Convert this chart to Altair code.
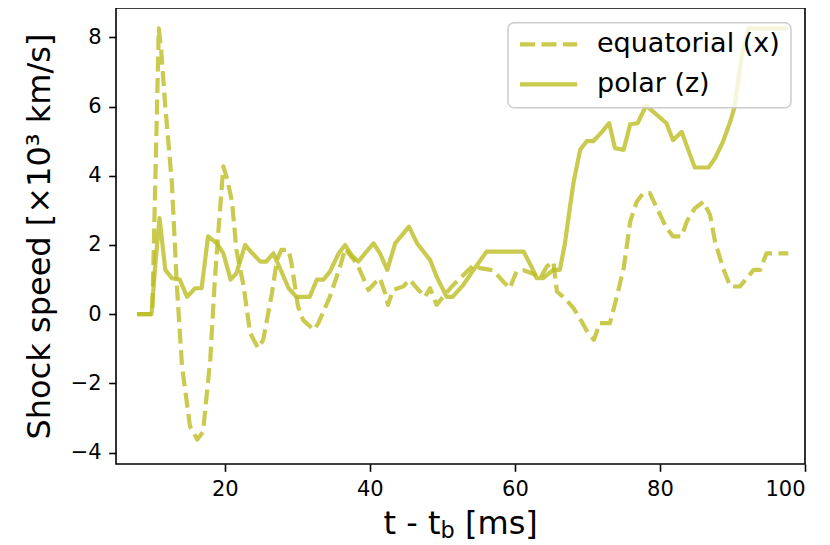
import altair as alt
import pandas as pd

# ---- data ----
eq_t = [7.9, 10.0, 10.9, 11.2, 11.8, 12.7, 13.4, 14.1, 15.2, 16.2, 17.0, 18.0, 18.6, 19.1, 19.8,
        20.3, 21.0, 21.6, 22.6, 23.5, 24.6, 25.3, 26.5, 27.2, 27.8, 28.8, 29.2, 30.1, 30.8, 32.3,
        32.9, 34.5, 35.9, 36.6, 37.3, 38.2, 39.1, 39.8, 40.7, 41.4, 42.1, 42.5, 43.2, 44.6, 45.5,
        46.5, 47.6, 48.3, 49.2, 50.1, 51.3, 52.9, 54.3, 55.2, 57.0, 58.4, 59.3, 60.2, 61.2, 62.5,
        63.5, 64.4, 65.3, 65.8, 66.9, 68.1, 69.2, 70.1, 70.9, 71.7, 73.1, 74.0, 75.0, 75.9, 76.8,
        77.7, 78.6, 79.6, 80.9, 81.8, 83.0, 83.7, 84.8, 86.0, 86.9, 87.6, 88.7, 89.7, 91.0, 92.0,
        92.9, 93.8, 94.7, 97.7]
eq_v = [0, 0, 8.26, 7.7, 6.0, 3.8, 0.8, -1.5, -3.24, -3.62, -3.4, -1.3, 0.9, 2.35, 4.27,
        3.93, 3.25, 1.86, 0.8, -0.55, -0.98, -0.74, 0.61, 1.57, 1.86, 1.86, 1.47, 0.22, -0.17, -0.45,
        -0.26, 0.51, 1.38, 1.9, 1.7, 1.47, 1.04, 0.7, 0.9, 1.04, 0.61, 0.27, 0.7, 0.8, 1.0,
        0.75, 0.5, 0.75, 0.27, 0.5, 0.8, 1.13, 1.42, 1.33, 1.27, 0.94, 0.75, 1.23, 1.27, 1.17,
        1.04, 1.38, 1.52, 0.65, 0.46, 0.17, -0.21, -0.55, -0.74, -0.26, -0.26, 0.46, 1.33, 2.68, 3.25,
        3.5, 3.5, 3.06, 2.49, 2.25, 2.25, 2.68, 3.06, 3.25, 2.87, 2.1, 1.33, 0.8, 0.8, 1.04,
        1.28, 1.28, 1.76, 1.76]

po_t = [7.9, 9.9, 10.4, 11.0, 11.8, 12.7, 13.8, 14.8, 15.9, 16.8, 17.7, 18.9, 19.8, 20.8, 21.6,
        22.8, 23.8, 24.9, 25.7, 26.7, 27.6, 28.8, 29.9, 31.7, 32.7, 33.6, 34.5, 35.7, 36.6, 37.5,
        38.4, 40.5, 41.4, 42.4, 43.5, 45.4, 46.5, 48.3, 49.2, 50.6, 51.4, 52.9, 54.3, 56.1, 61.2,
        62.5, 63.0, 63.9, 65.3, 66.2, 66.9, 67.6, 68.1, 69.0, 69.9, 70.8, 72.0, 73.0, 73.8, 75.0,
        75.9, 76.9, 78.1, 79.1, 80.9, 81.8, 83.0, 83.9, 84.8, 86.7, 87.6, 88.7, 89.7, 90.3, 91.3,
        92.2, 97.7]
po_v = [0, 0, 1.38, 2.78, 1.28, 1.04, 1.0, 0.5, 0.75, 0.75, 2.25, 2.05, 1.76, 1.0, 1.18,
        2.0, 1.76, 1.52, 1.52, 1.76, 1.33, 0.75, 0.5, 0.5, 1.0, 1.0, 1.23, 1.76, 2.0, 1.7,
        1.52, 2.05, 1.76, 1.28, 2.05, 2.53, 2.05, 1.57, 1.09, 0.5, 0.5, 0.85, 1.28, 1.81, 1.81,
        1.28, 1.04, 1.04, 1.28, 1.28, 2.05, 3.11, 3.83, 4.75, 5.0, 5.0, 5.27, 5.52, 4.8, 4.75,
        5.49, 5.52, 6.03, 5.85, 5.52, 5.03, 5.27, 4.75, 4.24, 4.24, 4.51, 4.99, 5.57, 6.0, 7.49,
        8.26, 8.26]

x_ticks = [20, 40, 60, 80, 100]
y_ticks = [-4, -2, 0, 2, 4, 6, 8]
legend_labels = ["equatorial (x)", "polar (z)"]

COLOR = "#bcbd22"
FONT = "DejaVu Sans"
W, H = 689, 456

eq_df = pd.DataFrame({"t": eq_t, "v": eq_v})
po_df = pd.DataFrame({"t": po_t, "v": po_v})
one = pd.DataFrame({"a": [0]})

xs = alt.Scale(domain=[5, 100], nice=False, zero=False)
ys = alt.Scale(domain=[-4.33, 8.85], nice=False, zero=False)

x_enc = alt.X("t:Q", scale=xs, axis=alt.Axis(values=x_ticks, title=None, grid=False))
y_enc = alt.Y("v:Q", scale=ys, axis=alt.Axis(values=y_ticks, grid=False,
                                             title="Shock speed [×10³ km/s]",
                                             labelExpr="replace(datum.label, '-', '−')"))

eq_line = alt.Chart(eq_df).mark_line(color=COLOR, opacity=0.8, strokeWidth=4.2,
                                     strokeDash=[15, 6.5], strokeJoin="round").encode(
    x=x_enc, y=y_enc, order="t:Q")
po_line = alt.Chart(po_df).mark_line(color=COLOR, opacity=0.8, strokeWidth=4.2,
                                     strokeJoin="round").encode(
    x="t:Q", y="v:Q", order="t:Q")

# legend (drawn manually in pixel space)
leg_box = alt.Chart(one).mark_rect(fill="white", fillOpacity=0.8, stroke="#cccccc",
                                   strokeWidth=1.5, cornerRadius=6).encode(
    x=alt.value(392), x2=alt.value(675), y=alt.value(14.7), y2=alt.value(99.7))
leg_eq = alt.Chart(one).mark_rule(color=COLOR, opacity=0.8, strokeWidth=4.2,
                                  strokeDash=[15, 6.5]).encode(
    x=alt.value(404), x2=alt.value(461), y=alt.value(36.3))
leg_po = alt.Chart(one).mark_rule(color=COLOR, opacity=0.8, strokeWidth=4.2).encode(
    x=alt.value(404), x2=alt.value(461), y=alt.value(76.3))
leg_t1 = alt.Chart(one).mark_text(text=legend_labels[0], font=FONT, fontSize=27, align="left",
                                  baseline="middle", color="black").encode(
    x=alt.value(481), y=alt.value(36.3))
leg_t2 = alt.Chart(one).mark_text(text=legend_labels[1], font=FONT, fontSize=27, align="left",
                                  baseline="middle", color="black").encode(
    x=alt.value(481), y=alt.value(76.3))

# x-axis title with subscript
xt1 = alt.Chart(one).mark_text(text="t - t", font=FONT, fontSize=32, align="right",
                               baseline="alphabetic", color="black").encode(
    x=alt.value(324.5), y=alt.value(526))
xt2 = alt.Chart(one).mark_text(text="b", font=FONT, fontSize=22.4, align="left",
                               baseline="alphabetic", color="black").encode(
    x=alt.value(324.5), y=alt.value(530))
xt3 = alt.Chart(one).mark_text(text="[ms]", font=FONT, fontSize=32, align="left",
                               baseline="alphabetic", color="black").encode(
    x=alt.value(349), y=alt.value(526))

chart = alt.layer(eq_line, po_line, leg_box, leg_eq, leg_po, leg_t1, leg_t2, xt1, xt2, xt3).properties(
    width=W, height=H,
    autosize=alt.AutoSizeParams(type="none"),
    padding={"left": 108, "top": 0, "right": 17, "bottom": 81},
    background="white",
).configure_view(
    stroke="black", strokeWidth=1.6
).configure_axis(
    domain=False,
    ticks=True, tickColor="black", tickWidth=1.6, tickSize=7.3,
    labelFont=FONT, labelFontSize=21, labelColor="black", labelPadding=7.5,
    titleFont=FONT, titleFontSize=32, titleFontWeight="normal", titleColor="black",
).configure_axisY(
    titlePadding=14
)

chart.save("out.html", embed_options={"renderer": "svg", "actions": False})
